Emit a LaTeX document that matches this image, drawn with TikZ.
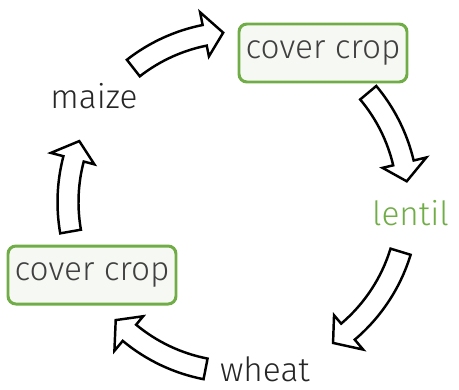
\documentclass[tikz,border=0pt]{standalone}
\usepackage{fontspec}
\setmainfont{Fira Sans Light}
\usepackage{tikz}
\usetikzlibrary{positioning}
\definecolor{cropgreen}{RGB}{112,173,71}
\definecolor{boxfill}{RGB}{246,248,243}
\definecolor{labelgray}{RGB}{64,64,64}
% curved block arrow on the rotation circle: #1 tail angle, #2 tip angle
\newcommand{\cyclearrow}[2]{%
  \filldraw[cyclearr] (#1:3.61) arc[start angle=#1, end angle=#2+6.3, radius=3.61]
    -- (#2+6.3:3.87) -- (#2:3.4) -- (#2+6.3:2.97) -- (#2+6.3:3.19)
    arc[start angle=#2+6.3, end angle=#1, radius=3.19] -- cycle;}

\begin{document}
\begin{tikzpicture}[
  cropbox/.style={draw=cropgreen, line width=1.7pt, fill=boxfill, rounded corners=4.5pt,
    minimum width=3.36cm, minimum height=1.16cm, text=labelgray, font=\fontsize{19}{22}\selectfont},
  croplabel/.style={anchor=base, text=black!85, font=\fontsize{19}{22}\selectfont},
  cyclearr/.style={draw=black, fill=white, line width=1.4pt, line join=miter}
]
  \useasboundingbox (0,0) rectangle (9.18,7.78);
  % crops in the rotation
  \node[cropbox] (cctop) at (6.46,6.72) {cover crop};
  \node[croplabel, text=cropgreen] (lentil) at (8.21,3.28) {lentil};
  \node[croplabel] (wheat) at (5.30,0.16) {wheat};
  \node[cropbox] (ccbot) at (1.84,2.28) {cover crop};
  \node[croplabel] (maize) at (1.88,5.62) {maize};
  % arrows round the circle
  \begin{scope}[shift={(4.76,3.74)}]
    \cyclearrow{128}{95}
    \cyclearrow{40}{7}
    \cyclearrow{-17}{-56}
    \cyclearrow{-101}{-136}
    \cyclearrow{190}{159}
  \end{scope}
\end{tikzpicture}
\end{document}
